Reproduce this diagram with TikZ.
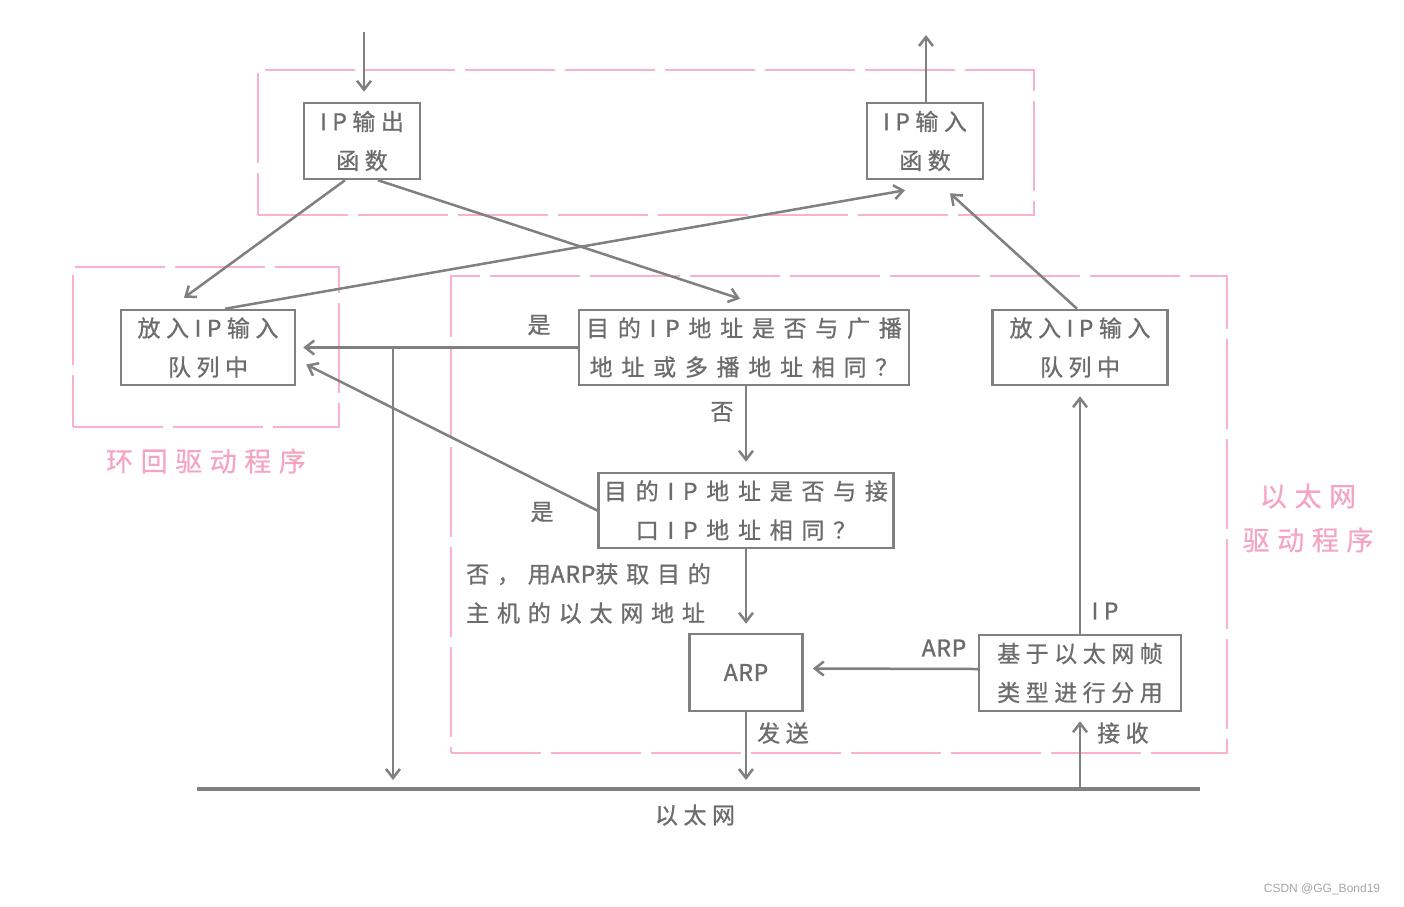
\documentclass[tikz,border=0pt]{standalone}
\usepackage{fontspec}
\newfontfamily\cjk[LetterSpace=24,FakeBold=0.8]{Noto Sans CJK SC}
\newfontfamily\cjkw[LetterSpace=38,FakeBold=0.8]{Noto Sans CJK SC}
\newfontfamily\cjkm[LetterSpace=34,FakeBold=0.8]{Noto Sans CJK SC}
\newfontfamily\cjkn[LetterSpace=3,FakeBold=1.2]{Noto Sans CJK SC}
\newfontfamily\cjkp[LetterSpace=28,FakeBold=0.5]{Noto Sans CJK SC}
\newfontfamily\wm{Liberation Sans}
\usetikzlibrary{arrows.meta}
\definecolor{ln}{HTML}{808080}
\definecolor{tx}{HTML}{6C6C6C}
\definecolor{pk}{HTML}{F9B2C7}
\definecolor{pkt}{HTML}{F6A5BE}
\newcommand\arpt{{\cjkn ARP}}
\tikzset{
  box/.style={draw=ln, line width=2.5pt, inner sep=0pt, text=tx, align=center,
    font=\cjk\fontsize{23}{39}\selectfont},
  wbox/.style={box, font=\cjkw\fontsize{23}{39}\selectfont},
  pinkbox/.style={draw=pk, line width=2.5pt, dash pattern=on 90pt off 10pt, inner sep=0pt},
  lbl/.style={text=tx, inner sep=0pt, font=\cjk\fontsize{23}{39}\selectfont},
  mlbl/.style={lbl, font=\cjkm\fontsize{23}{39}\selectfont},
  plbl/.style={text=pkt, inner sep=0pt, align=center, font=\cjkp\fontsize{27}{44}\selectfont},
  arr/.style={draw=ln, line width=2.5pt, -{Straight Barb[length=9pt,width=14pt]}},
}
\begin{document}
\begin{tikzpicture}[x=1pt,y=-1pt]
\fill[white] (0,0) rectangle (1404,906);
\useasboundingbox (0,0) rectangle (1404,906);

% pink group frames
\node[pinkbox, minimum width=776pt, minimum height=145pt] (P1) at (646,142.5) {};
\node[pinkbox, minimum width=266pt, minimum height=160pt] (P2) at (206,347) {};
\node[pinkbox, minimum width=776pt, minimum height=477pt] (P3) at (839,514.5) {};
\node[plbl] (L2) at (206,461) {环回驱动程序};
\node[plbl] (L3) at (1308,518) {以太网\\驱动程序};

% boxes
\node[box, minimum width=116pt, minimum height=76pt] (A) at (362,141) {IP输出\\函数};
\node[box, minimum width=116pt, minimum height=76pt] (B) at (925,141) {IP输入\\函数};
\node[box, minimum width=174pt, minimum height=75pt] (C) at (208,347.5) {放入IP输入\\队列中};
\node[wbox, minimum width=330pt, minimum height=75pt] (D) at (744,347.5) {目的IP地址是否与广播\\地址或多播地址相同？};
\node[wbox, minimum width=295pt, minimum height=75pt] (E) at (746,510.5) {目的IP地址是否与接\\口IP地址相同？};
\node[box, minimum width=113pt, minimum height=77pt] (F) at (746,672.5) {\arpt};
\node[box, minimum width=202pt, minimum height=76pt] (G) at (1080,673) {基于以太网帧\\类型进行分用};
\node[box, minimum width=175pt, minimum height=75pt] (H) at (1080,347.5) {放入IP输入\\队列中};

% coordinates
\coordinate (inA) at (364,32);
\coordinate (outB) at (926,35);
\coordinate (br) at (393,347.5);
\coordinate (e1) at (393,780);
\coordinate (e2) at (746,780);
\coordinate (e3) at (1080,789);
\coordinate (ethL) at (197,789);
\coordinate (ethR) at (1200,789);

% ethernet
\draw[draw=ln, line width=3.5pt] (ethL) -- (ethR);
\node[lbl] (ETH) at (695,815) {以太网};

% connectors
\draw[arr] (inA) -- ([xshift=2pt,yshift=10pt]A.north);
\draw[arr] ([xshift=1pt]B.north) -- (outB);
\draw[arr] ([xshift=-17pt]A.south) -- ([xshift=-24pt,yshift=11pt]C.north);
\draw[arr] ([xshift=16pt]A.south) -- ([xshift=-4pt,yshift=10pt]D.north);
\draw[arr] ([xshift=17pt]C.north) -- ([xshift=-20pt,yshift=-10pt]B.south);
\draw[arr] ([xshift=-3pt]H.north) -- ([xshift=25pt,yshift=-13pt]B.south);
\draw[arr] (D.west) -- ([xshift=7pt]C.east);
\draw[arr] (br) -- (e1);
\draw[arr] ([xshift=2pt]D.south) -- ([yshift=10pt]E.north);
\draw[arr] (E.west) -- ([xshift=10pt,yshift=-17pt]C.east);
\draw[arr] (E.south) -- ([yshift=9pt]F.north);
\draw[arr] ([yshift=4pt]G.west) -- ([xshift=9pt,yshift=4pt]F.east);
\draw[arr] (G.north) -- ([yshift=-10pt]H.south);
\draw[arr] (F.south) -- (e2);
\draw[arr] (e3) -- ([yshift=-9pt]G.south);

% labels
\node[lbl] (y1) at (539,325) {是};
\node[lbl] (n1) at (722,412) {否};
\node[lbl] (y2) at (542,512) {是};
\node[mlbl, anchor=west, align=left] (n2) at (466,593.5) {否，用\arpt 获取目的\\主机的以太网地址};
\node[lbl] (la) at (944,648) {\arpt};
\node[lbl] (li) at (1105,611) {IP};
\node[lbl] (ls) at (783,733) {发送};
\node[lbl] (lr) at (1123,733) {接收};

\node[text=gray!70, font=\wm\fontsize{12}{14}\selectfont, inner sep=0pt] (wmk) at (1322,889) {CSDN @GG\_Bond19};
\end{tikzpicture}
\end{document}
